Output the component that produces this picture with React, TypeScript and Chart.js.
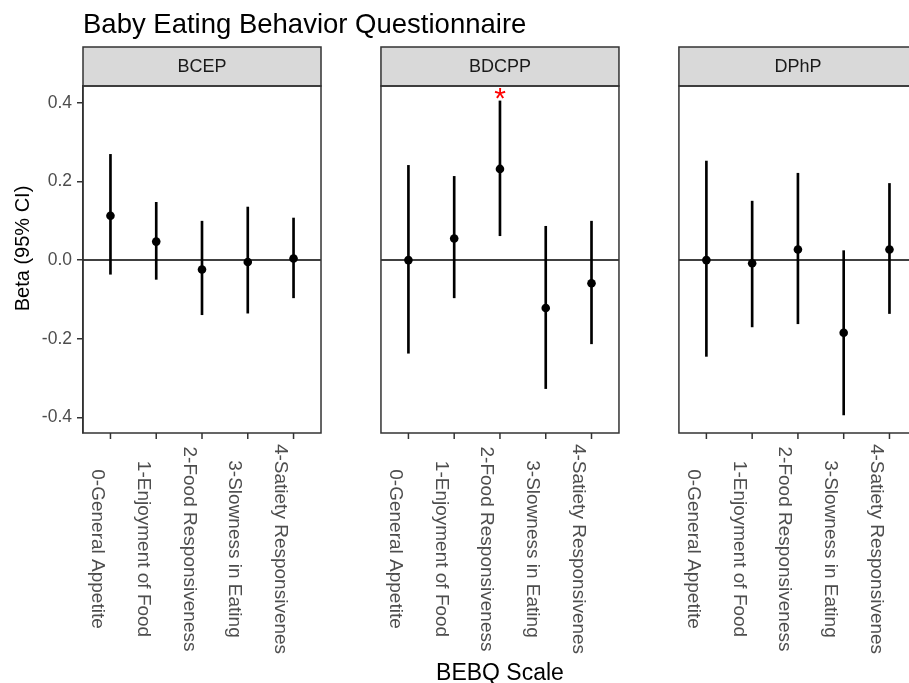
import React, { useEffect, useRef } from "react";
import { Chart, registerables } from "chart.js";

Chart.register(...registerables);

const chartTitle = "Baby Eating Behavior Questionnaire";
const xAxisTitle = "BEBQ Scale";
const yAxisTitle = "Beta (95% CI)";

const panels = ["BCEP", "BDCPP", "DPhP"];
const categories = [
  "0-General Appetite",
  "1-Enjoyment of Food",
  "2-Food Responsiveness",
  "3-Slowness in Eating",
  "4-Satiety Responsivenes",
];

const bcepBeta = [0.113, 0.047, -0.024, -0.005, 0.004];
const bcepLower = [-0.036, -0.049, -0.139, -0.135, -0.096];
const bcepUpper = [0.269, 0.147, 0.099, 0.135, 0.107];

const bdcppBeta = [0.0, 0.055, 0.232, -0.122, -0.059];
const bdcppLower = [-0.237, -0.096, 0.062, -0.327, -0.213];
const bdcppUpper = [0.241, 0.213, 0.405, 0.086, 0.099];

const dphpBeta = [0.0, -0.008, 0.027, -0.185, 0.027];
const dphpLower = [-0.245, -0.17, -0.162, -0.394, -0.136];
const dphpUpper = [0.252, 0.15, 0.221, 0.024, 0.195];

const bcepSignificant = [false, false, false, false, false];
const bdcppSignificant = [false, false, true, false, false];
const dphpSignificant = [false, false, false, false, false];

const yTicks = [-0.4, -0.2, 0, 0.2, 0.4];

// layout (not data)
const PANEL_STEP = 6.51; // x-units between panel origins
const PAD = 0.6; // discrete expansion each side
const FONT = "'Liberation Sans', Arial, Helvetica, sans-serif";

Chart.defaults.font.family = FONT;

const facetPlugin = {
  id: "facets",
  beforeDatasetsDraw(chart: any) {
    const { ctx, scales } = chart;
    const x = scales.x;
    const y = scales.y;
    const y0 = y.getPixelForValue(0);
    ctx.save();
    ctx.strokeStyle = "#000";
    ctx.lineWidth = 1.5;
    panels.forEach((_, p) => {
      const l = x.getPixelForValue(p * PANEL_STEP - PAD);
      const r = x.getPixelForValue(p * PANEL_STEP + categories.length - 1 + PAD);
      ctx.beginPath();
      ctx.moveTo(l, y0);
      ctx.lineTo(r, y0);
      ctx.stroke();
    });
    ctx.restore();
  },
  afterDatasetsDraw(chart: any) {
    const { ctx, chartArea, scales } = chart;
    const x = scales.x;
    const y = scales.y;
    const top = chartArea.top;
    const bottom = chartArea.bottom;
    const stripTop = top - 39;
    const uppers = [bcepUpper, bdcppUpper, dphpUpper];
    const sig = [bcepSignificant, bdcppSignificant, dphpSignificant];

    ctx.save();
    panels.forEach((name, p) => {
      const l = x.getPixelForValue(p * PANEL_STEP - PAD);
      const r = x.getPixelForValue(p * PANEL_STEP + categories.length - 1 + PAD);
      // strip
      ctx.fillStyle = "#d9d9d9";
      ctx.fillRect(l, stripTop, r - l, top - stripTop);
      ctx.strokeStyle = "#333";
      ctx.lineWidth = 1.5;
      ctx.strokeRect(l, stripTop, r - l, top - stripTop);
      ctx.fillStyle = "#1a1a1a";
      ctx.font = `18px ${FONT}`;
      ctx.textAlign = "center";
      ctx.textBaseline = "middle";
      ctx.fillText(name, (l + r) / 2, (stripTop + top) / 2 + 1);
      // panel border
      ctx.strokeStyle = "#333";
      ctx.lineWidth = 1.5;
      ctx.strokeRect(l, top, r - l, bottom - top);
      // ticks and labels
      categories.forEach((cat, i) => {
        const px = x.getPixelForValue(p * PANEL_STEP + i);
        ctx.strokeStyle = "#333";
        ctx.lineWidth = 1.5;
        ctx.beginPath();
        ctx.moveTo(px, bottom);
        ctx.lineTo(px, bottom + 6);
        ctx.stroke();
        ctx.save();
        ctx.translate(px - 18.5, 549);
        ctx.rotate(Math.PI / 2);
        ctx.fillStyle = "#4d4d4d";
        ctx.font = `19px ${FONT}`;
        ctx.textAlign = "center";
        ctx.textBaseline = "alphabetic";
        ctx.fillText(cat, 0, 0);
        ctx.restore();
        if (sig[p][i]) {
          ctx.save();
          ctx.fillStyle = "#ff0000";
          ctx.font = `30px ${FONT}`;
          ctx.textAlign = "center";
          ctx.textBaseline = "alphabetic";
          const m = ctx.measureText("*");
          const cy = y.getPixelForValue(uppers[p][i]) - 7;
          const base = cy + (m.actualBoundingBoxAscent - m.actualBoundingBoxDescent) / 2;
          ctx.fillText("*", px, base);
          ctx.restore();
        }
      });
    });

    // title
    ctx.fillStyle = "#000";
    ctx.font = `27.5px ${FONT}`;
    ctx.textAlign = "left";
    ctx.textBaseline = "alphabetic";
    ctx.fillText(chartTitle, chartArea.left, 32.5);

    // x axis title
    const xl = x.getPixelForValue(-PAD);
    const xr = x.getPixelForValue((panels.length - 1) * PANEL_STEP + categories.length - 1 + PAD);
    ctx.font = `23px ${FONT}`;
    ctx.textAlign = "center";
    ctx.fillText(xAxisTitle, (xl + xr) / 2, 679.5);

    // y axis title
    ctx.save();
    ctx.translate(28.5, 248.5);
    ctx.rotate(-Math.PI / 2);
    ctx.font = `20px ${FONT}`;
    ctx.textAlign = "center";
    ctx.textBaseline = "alphabetic";
    ctx.fillText(yAxisTitle, 0, 0);
    ctx.restore();

    ctx.restore();
  },
};

export default function App() {
  const ref = useRef<HTMLCanvasElement>(null);

  useEffect(() => {
    const canvas = ref.current;
    if (!canvas) return;
    const betas = [bcepBeta, bdcppBeta, dphpBeta];
    const lowers = [bcepLower, bdcppLower, dphpLower];
    const uppers = [bcepUpper, bdcppUpper, dphpUpper];
    const barData: any[] = [];
    const pointData: any[] = [];
    panels.forEach((_, p) => {
      categories.forEach((_, i) => {
        const xv = p * PANEL_STEP + i;
        barData.push({ x: xv, y: [lowers[p][i], uppers[p][i]] });
        pointData.push({ x: xv, y: betas[p][i] });
      });
    });

    const chart = new Chart(canvas, {
      type: "bar",
      data: {
        datasets: [
          {
            type: "bar",
            data: barData,
            backgroundColor: "#000",
            borderWidth: 0,
            barThickness: 2,
            order: 2,
          } as any,
          {
            type: "scatter",
            data: pointData,
            backgroundColor: "#000",
            borderColor: "#000",
            borderWidth: 0,
            pointRadius: 4.3,
            showLine: false,
            order: 1,
          } as any,
        ],
      },
      options: {
        responsive: false,
        animation: false,
        devicePixelRatio: 1,
        events: [],
        layout: { autoPadding: false, padding: { top: 86, bottom: 250, left: 0, right: 0 } },
        plugins: {
          legend: { display: false },
          title: { display: false },
          tooltip: { enabled: false },
        },
        scales: {
          x: {
            type: "linear",
            display: false,
            offset: false,
            min: -PAD,
            max: -PAD + 826 / 45.77,
          },
          y: {
            type: "linear",
            position: "left",
            min: -0.44,
            max: 0.443,
            afterFit: (scale: any) => {
              scale.width = 83;
            },
            afterBuildTicks: (scale: any) => {
              scale.ticks = yTicks.map((v) => ({ value: v }));
            },
            ticks: {
              color: "#4d4d4d",
              font: { size: 17.5 },
              padding: 5,
              callback: (v: any) => Number(v).toFixed(1),
            },
            grid: {
              drawOnChartArea: false,
              drawTicks: true,
              tickLength: 6,
              color: "#333",
              lineWidth: 1.5,
            },
            border: { display: true, color: "#333", width: 1.5 },
          },
        },
      },
      plugins: [facetPlugin],
    } as any);

    return () => chart.destroy();
  }, []);

  return (
    <div style={{ position: "absolute", left: 0, top: 0, width: 909, height: 683 }}>
      <canvas ref={ref} width={909} height={683} style={{ display: "block", width: 909, height: 683 }} />
    </div>
  );
}
